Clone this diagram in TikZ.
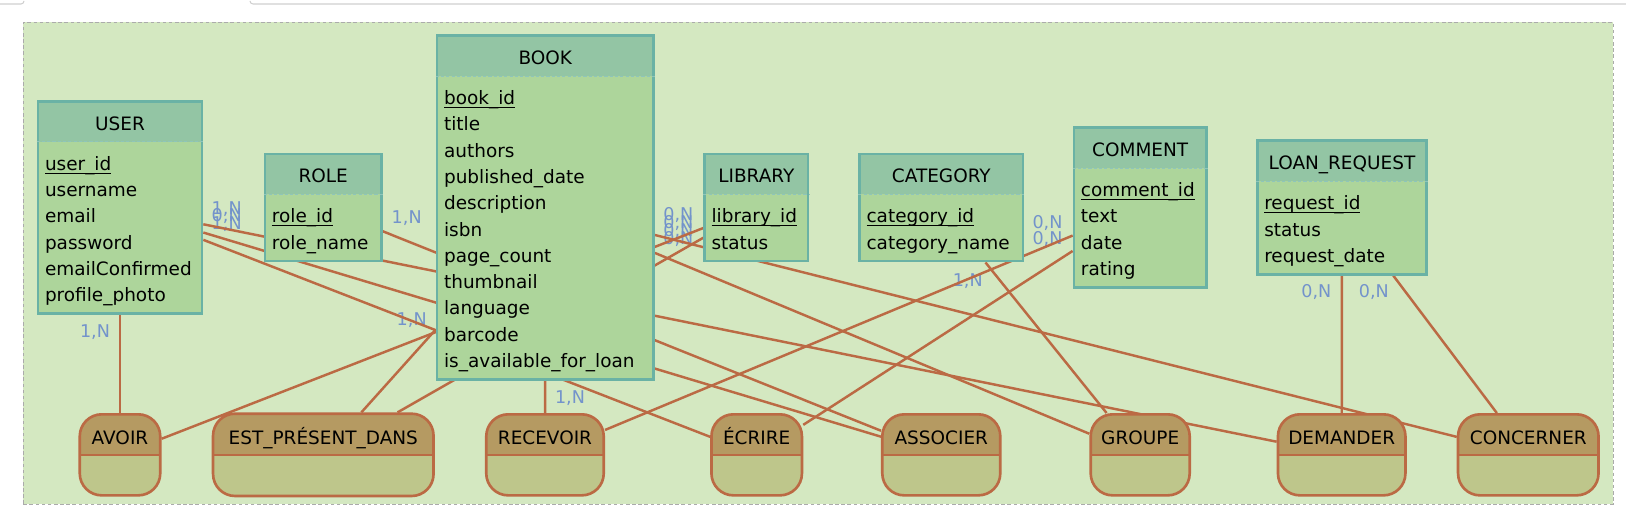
\documentclass[tikz,border=0pt]{standalone}
\usepackage{fontspec}
\usepackage{array}
\setmainfont{DejaVu Sans}
\usetikzlibrary{shapes.multipart}
\definecolor{bgcol}{HTML}{D4E8C1}
\definecolor{bgline}{HTML}{ABABAB}
\definecolor{uigray}{HTML}{CFCFCF}
\definecolor{enthead}{HTML}{93C5A4}
\definecolor{entbody}{HTML}{ADD59B}
\definecolor{entline}{HTML}{6AB2A5}
\definecolor{assohead}{HTML}{B59A62}
\definecolor{assobody}{HTML}{BEC68B}
\definecolor{assoline}{HTML}{BB6A44}
\definecolor{cardcol}{HTML}{7393CB}
\newcommand{\mcdfont}{\fontsize{10.5}{14.96}\selectfont}
\newcommand{\cardfont}{\fontsize{10}{12}\selectfont}
\newcommand{\keyattr}[1]{\underline{\smash{#1}}}
\newcolumntype{A}{>{\rule[-2.72pt]{0pt}{14.96pt}}l}
\renewcommand{\arraystretch}{0}
\pgfdeclarelayer{bglayer}
\pgfdeclarelayer{edgelayer}
\pgfdeclarelayer{nodelayer}
\pgfsetlayers{bglayer,edgelayer,nodelayer,main}
\tikzstyle{edge}=[draw=assoline, line width=1.4pt]
\tikzstyle{split}=[draw=entline!75, line width=0.6pt, dash pattern=on 1.8pt off 1.2pt]
\tikzstyle{card}=[text=cardcol, font=\cardfont, inner sep=0pt]
\tikzstyle{entity}=[rectangle split, rectangle split parts=2, rectangle split part fill={enthead,entbody}, rectangle split part align={center,left}, rectangle split draw splits=false, draw=entline, line width=1.5pt, inner xsep=4pt, inner ysep=3.3pt, font=\mcdfont, execute at begin node={\rule[-2.49pt]{0pt}{14.96pt}}]
\tikzstyle{assoc}=[rectangle split, rectangle split parts=2, rectangle split draw splits=false, rectangle split empty part height=10.47pt, rectangle split empty part depth=4.49pt, rounded corners=0.44cm, fill=assobody, draw=assoline, line width=1.5pt, inner ysep=3.3pt, font=\mcdfont, execute at begin node={\rule[-1.76pt]{0pt}{14.96pt}}, path picture={\fill [assohead, sharp corners] (path picture bounding box.north west) rectangle (path picture bounding box.east); \draw [assoline, line width=0.9pt] (path picture bounding box.west) -- (path picture bounding box.east);}]

\begin{document}
\begin{tikzpicture}
			\useasboundingbox (0, 0) rectangle (32.52, 10.54);
			\begin{pgfonlayer}{bglayer}
			\draw [uigray, line width=0.6pt] (0, 10.46) -- (0.42, 10.46) arc [start angle=-90, end angle=0, radius=0.06];
			\draw [uigray, line width=0.6pt] (5.0, 10.52) arc [start angle=180, end angle=270, radius=0.06] -- (32.52, 10.46);
			\draw [fill=bgcol, draw=bgline, line width=0.5pt, dash pattern=on 2pt off 1.5pt] (0.466, 0.46) rectangle (32.26, 10.094);
			\end{pgfonlayer}
			\begin{pgfonlayer}{nodelayer}
			\node [style=entity, minimum width=3.28cm] (user) at (2.4, 6.39) {USER\nodepart{two}\begin{tabular}{@{}A@{}}\keyattr{user\_id}\\username\\email\\password\\emailConfirmed\\profile\_photo\end{tabular}};
			\node [style=entity, minimum width=2.33cm] (role) at (6.464, 6.39) {ROLE\nodepart{two}\begin{tabular}{@{}A@{}}\keyattr{role\_id}\\role\_name\end{tabular}};
			\node [style=entity, minimum width=4.33cm] (book) at (10.906, 6.39) {BOOK\nodepart{two}\begin{tabular}{@{}A@{}}\keyattr{book\_id}\\title\\authors\\published\_date\\description\\isbn\\page\_count\\thumbnail\\language\\barcode\\is\_available\_for\_loan\end{tabular}};
			\node [style=entity, minimum width=2.07cm] (library) at (15.126, 6.39) {LIBRARY\nodepart{two}\begin{tabular}{@{}A@{}}\keyattr{library\_id}\\status\end{tabular}};
			\node [style=entity, minimum width=3.27cm] (category) at (18.826, 6.39) {CATEGORY\nodepart{two}\begin{tabular}{@{}A@{}}\keyattr{category\_id}\\category\_name\end{tabular}};
			\node [style=entity, minimum width=2.65cm] (comment) at (22.804, 6.39) {COMMENT\nodepart{two}\begin{tabular}{@{}A@{}}\keyattr{comment\_id}\\text\\date\\rating\end{tabular}};
			\node [style=entity, minimum width=3.39cm] (loanreq) at (26.84, 6.39) {LOAN\_REQUEST\nodepart{two}\begin{tabular}{@{}A@{}}\keyattr{request\_id}\\status\\request\_date\end{tabular}};
			\draw [style=split] (user.text split west) to (user.text split east);
			\draw [style=split] (role.text split west) to (role.text split east);
			\draw [style=split] (book.text split west) to (book.text split east);
			\draw [style=split] (library.text split west) to (library.text split east);
			\draw [style=split] (category.text split west) to (category.text split east);
			\draw [style=split] (comment.text split west) to (comment.text split east);
			\draw [style=split] (loanreq.text split west) to (loanreq.text split east);
			\node [style=assoc, minimum width=1.61cm] (avoir) at (2.4, 1.443) {AVOIR\nodepart{two}};
			\node [style=assoc, minimum width=4.41cm] (est) at (6.466, 1.443) {EST\_PRÉSENT\_DANS\nodepart{two}};
			\node [style=assoc, minimum width=2.35cm] (recevoir) at (10.9, 1.443) {RECEVOIR\nodepart{two}};
			\node [style=assoc, minimum width=1.81cm] (ecrire) at (15.134, 1.443) {ÉCRIRE\nodepart{two}};
			\node [style=assoc, minimum width=2.36cm] (associer) at (18.826, 1.443) {ASSOCIER\nodepart{two}};
			\node [style=assoc, minimum width=1.98cm] (groupe) at (22.804, 1.443) {GROUPE\nodepart{two}};
			\node [style=assoc, minimum width=2.55cm] (demander) at (26.834, 1.443) {DEMANDER\nodepart{two}};
			\node [style=assoc, minimum width=2.81cm] (concerner) at (30.566, 1.443) {CONCERNER\nodepart{two}};
			\end{pgfonlayer}
			\begin{pgfonlayer}{edgelayer}
			\node [style=card] (c1) at (1.90, 3.89) {1,N};
			\node [style=card] (c2) at (4.534, 6.36) {1,N};
			\node [style=card] (c3) at (4.534, 6.22) {0,N};
			\node [style=card] (c4) at (4.534, 6.06) {1,N};
			\node [style=card] (c5) at (8.134, 6.17) {1,N};
			\node [style=card] (c6) at (8.234, 4.13) {1,N};
			\node [style=card] (c7) at (11.40, 2.58) {1,N};
			\node [style=card] (c8) at (13.566, 6.23) {0,N};
			\node [style=card] (c9) at (13.566, 6.07) {0,N};
			\node [style=card] (c10) at (13.566, 5.91) {0,N};
			\node [style=card] (c11) at (13.566, 5.75) {0,N};
			\node [style=card] (c12) at (19.354, 4.92) {1,N};
			\node [style=card] (c13) at (20.95, 6.08) {0,N};
			\node [style=card] (c14) at (20.95, 5.76) {0,N};
			\node [style=card] (c15) at (26.326, 4.69) {0,N};
			\node [style=card] (c16) at (27.476, 4.69) {0,N};
			\draw [style=edge] (user) to (avoir);
			\draw [style=edge] (user) to (ecrire);
			\draw [style=edge] (user) to (associer);
			\draw [style=edge] (user) to (demander);
			\draw [style=edge] (role) to (associer);
			\draw [style=edge] (book) to (est);
			\draw [style=edge] (book) to (recevoir);
			\draw [style=edge] (book) to (groupe);
			\draw [style=edge] (book) to (concerner);
			\draw [style=edge] (library) to (avoir);
			\draw [style=edge] (library) to (est);
			\draw [style=edge] (category) to (groupe);
			\draw [style=edge] (comment) to (recevoir);
			\draw [style=edge] (comment) to (ecrire);
			\draw [style=edge] (loanreq) to (demander);
			\draw [style=edge] (loanreq) to (concerner);
			\end{pgfonlayer}
\end{tikzpicture}
\end{document}
